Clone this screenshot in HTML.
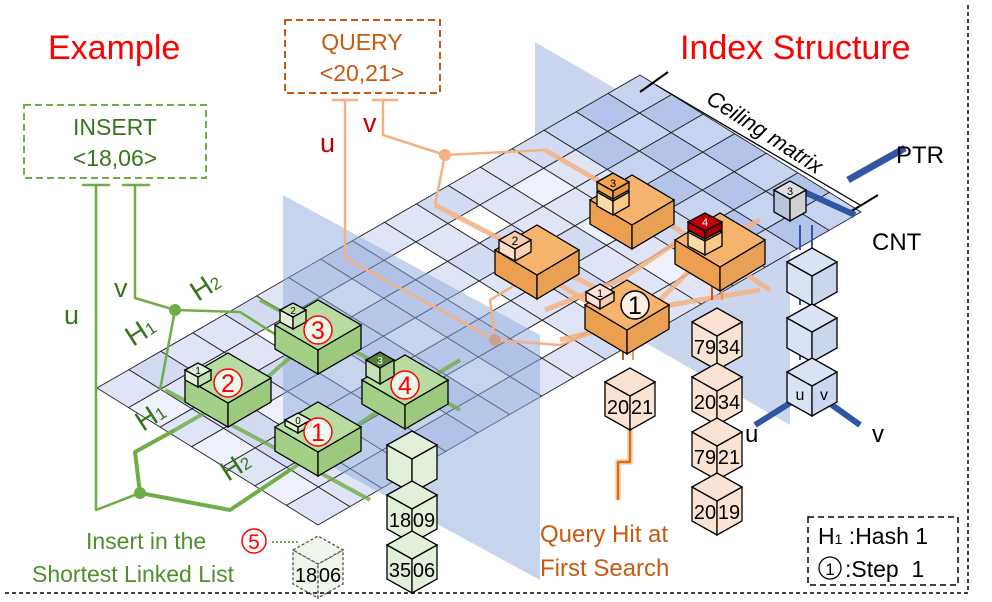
<!DOCTYPE html>
<html><head><meta charset="utf-8"><style>
html,body{margin:0;padding:0;background:#fff;}
svg{display:block;font-family:"Liberation Sans",sans-serif;}
</style></head><body>
<svg id="s" width="992" height="602" viewBox="0 0 992 602" xmlns="http://www.w3.org/2000/svg">
<g id="planes1"></g>
<g id="grid"></g>
<g id="planes2"></g>
<g id="lines"></g>
<g id="cubes"></g>
<g id="txt">
<line x1="968" y1="5" x2="968" y2="593" stroke="#000" stroke-width="1.5" stroke-dasharray="4,3"/>
<line x1="5" y1="593" x2="968" y2="593" stroke="#000" stroke-width="1.5" stroke-dasharray="4,3"/>
<text x="48" y="59" font-size="34" fill="#f00">Example</text>
<text x="680" y="59" font-size="34" fill="#f00">Index Structure</text>
<rect x="285" y="20" width="155" height="73" fill="none" stroke="#c55a11" stroke-width="2" stroke-dasharray="7,4"/>
<text x="362" y="50" font-size="23" fill="#c55a11" text-anchor="middle">QUERY</text>
<text x="362" y="81" font-size="23" fill="#c55a11" text-anchor="middle">&lt;20,21&gt;</text>
<rect x="24" y="105" width="182" height="73" fill="none" stroke="#70ad47" stroke-width="2" stroke-dasharray="7,4"/>
<text x="115" y="135" font-size="23" fill="#38761d" text-anchor="middle">INSERT</text>
<text x="115" y="166" font-size="23" fill="#38761d" text-anchor="middle">&lt;18,06&gt;</text>
<text x="320" y="152" font-size="27" fill="#c00000">u</text>
<text x="363" y="132" font-size="27" fill="#c00000">v</text>
<text x="64" y="324" font-size="27" fill="#38761d">u</text>
<text x="114" y="297" font-size="27" fill="#38761d">v</text>
<text x="0" y="0" font-size="28" fill="#38761d" transform="translate(133,347) rotate(-33)">H<tspan font-size="17">1</tspan></text>
<text x="0" y="0" font-size="28" fill="#38761d" transform="translate(198,302) rotate(-33)">H<tspan font-size="17">2</tspan></text>
<text x="0" y="0" font-size="28" fill="#38761d" transform="translate(143,432) rotate(-33)">H<tspan font-size="17">1</tspan></text>
<text x="0" y="0" font-size="28" fill="#38761d" transform="translate(228,482) rotate(-33)">H<tspan font-size="17">2</tspan></text>
<text x="0" y="0" font-size="22" fill="#000" font-style="italic" transform="translate(705,102) rotate(33)">Ceiling matrix</text>
<text x="896" y="163" font-size="24">PTR</text>
<text x="872" y="250" font-size="24">CNT</text>
<text x="745" y="442" font-size="24">u</text>
<text x="872" y="442" font-size="24">v</text>
<text x="540" y="542" font-size="24" fill="#c55a11">Query Hit at</text>
<text x="540" y="576" font-size="24" fill="#c55a11">First Search</text>
<text x="86" y="549" font-size="23" fill="#4e8f2c">Insert in the</text>
<circle cx="254" cy="541" r="12" fill="#fff" stroke="#f00" stroke-width="1.5"/>
<text x="254" y="549" font-size="21" fill="#f00" text-anchor="middle">5</text>
<text x="32" y="582" font-size="23" fill="#4e8f2c">Shortest Linked List</text>
<line x1="272" y1="542" x2="298" y2="542" stroke="#70ad47" stroke-width="2" stroke-dasharray="2,2"/>
<rect x="808" y="517" width="150" height="68" fill="none" stroke="#000" stroke-width="1.5" stroke-dasharray="6,4"/>
<text x="818" y="544" font-size="23">H<tspan font-size="14">1</tspan> :Hash 1</text>
<circle cx="830" cy="568" r="11" fill="none" stroke="#000" stroke-width="1.3"/>
<text x="830" y="575" font-size="17" text-anchor="middle">1</text>
<text x="845" y="577" font-size="23">:Step&#160;&#160;1</text>
</g>
<script>
var NS="http://www.w3.org/2000/svg";
function el(p,t,a){var e=document.createElementNS(NS,t);for(var k in a)e.setAttribute(k,a[k]);document.getElementById(p).appendChild(e);return e;}
function P(i,j){return [97+i*221/7+j*543/17, 388+i*137/7-j*313/17];}
function pts(a){return a.map(function(p){return p[0].toFixed(1)+","+p[1].toFixed(1)}).join(" ");}
el("planes1","polygon",{points:"535,42 790,190 790,425 535,280",fill:"#9db4e0","fill-opacity":"0.55"});
var cols=["#dfe4f6","#ffffff","#d3dbf3","#eef1fb","#dfe4f6","#ffffff"];
for(var i=0;i<7;i++)for(var j=0;j<17;j++){
 var c=cols[(i*3+j*2+((i*j)%4))%6];
 if(j>=14) c=(i+j)%2?"#b3c3ea":"#c6d3f1";
 el("grid","polygon",{points:pts([P(i,j),P(i+1,j),P(i+1,j+1),P(i,j+1)]),fill:c,stroke:"#222","stroke-width":"0.9"});
}
el("planes2","polygon",{points:"283,195 540,335 540,580 283,440",fill:"#8eaadc","fill-opacity":"0.5"});
function pl(p,c,w,extra){var a={points:p,fill:"none",stroke:c,"stroke-width":w,"stroke-linejoin":"round"};for(var k in extra)a[k]=extra[k];el("lines","polyline",a);}
pl("96,185 96,510 140,493","#70ad47",2.5);
pl("135,185 135,298 175,310","#70ad47",2.5);
pl("82,185 110,185","#70ad47",2.5);pl("122,185 150,185","#70ad47",2.5);
pl("175,310 240,312 300,350","#70ad47",2.5);
pl("175,310 160,390","#70ad47",2.5);
pl("140,493 135,452 175,430","#70ad47",4);
pl("140,493 230,510 290,470","#70ad47",4);
pl("175,430 270,375 310,340","#70ad47",4,{"stroke-opacity":"0.8"});
pl("290,470 410,390 460,360","#70ad47",4,{"stroke-opacity":"0.8"});
pl("165,390 260,440 370,500","#70ad47",4,{"stroke-opacity":"0.8"});
pl("260,300 380,365 460,410","#70ad47",4,{"stroke-opacity":"0.8"});
el("lines","circle",{cx:175,cy:310,r:6,fill:"#70ad47"});
el("lines","circle",{cx:140,cy:493,r:6,fill:"#70ad47"});
pl("345,100 345,258 495,340","#f4b183",2.5);
pl("383,100 383,135 445,155","#f4b183",2.5);
pl("332,100 358,100","#f4b183",2.5);pl("372,100 398,100","#f4b183",2.5);
pl("445,155 545,150","#f4b183",2.5);
pl("445,155 435,205","#f4b183",2.5);
pl("495,340 490,300 540,270","#f4b183",2.5);
pl("495,340 560,345 600,330","#f4b183",2.5);
pl("435,205 550,265 640,310 760,290","#f4b183",5,{"stroke-opacity":"0.85"});
pl("505,250 600,310","#f4b183",5,{"stroke-opacity":"0.85"});
pl("545,150 640,205 770,290","#f4b183",5,{"stroke-opacity":"0.85"});
pl("560,340 640,320 720,240 760,220","#f4b183",5,{"stroke-opacity":"0.85"});
pl("545,310 620,280 680,240","#f4b183",5,{"stroke-opacity":"0.85"});
el("lines","circle",{cx:445,cy:155,r:6,fill:"#f4b183"});
el("lines","circle",{cx:495,cy:340,r:6,fill:"#c9a090"});
pl("618,500 618,462 630,462 630,425","#f4b183",6,{"stroke-opacity":"0.5"});
pl("618,500 618,462 630,462 630,425","#e06d10",2.5);
pl("640,92 668,72","#000",2);pl("850,212 878,195","#000",2);pl("656,85 860,205","#000",1.3);
pl("848,180 905,148","#2f55a4",7);pl("855,215 800,190","#2f55a4",6);
pl("755,425 795,400","#2f55a4",6);pl("860,425 825,400","#2f55a4",6);
function cube(cx,cy,w,h,d,top,l,r,st,dash){
 var s=st||"#000",a={stroke:s,"stroke-width":"1.3"};if(dash)a["stroke-dasharray"]="3,2";
 function f(p,c){var o={points:pts(p),fill:c};for(var k in a)o[k]=a[k];el("cubes","polygon",o);}
 f([[cx-w,cy],[cx,cy+h],[cx,cy+h+d],[cx-w,cy+d]],l);
 f([[cx+w,cy],[cx,cy+h],[cx,cy+h+d],[cx+w,cy+d]],r);
 f([[cx-w,cy],[cx,cy-h],[cx+w,cy],[cx,cy+h]],top);
}
function txt(x,y,s,sz,c){var t=el("cubes","text",{x:x,y:y,"font-size":sz,fill:c||"#000","text-anchor":"middle"});t.textContent=s;}
function circ(x,y,n,c){el("cubes","circle",{cx:x,cy:y,r:14,fill:"#fff",stroke:c,"stroke-width":"1.5","fill-opacity":"0.8"});txt(x,y+9,n,25,c);}
cube(632,200,42,25,24,"#f5b36d","#eb9f4f","#e8a054");
cube(720,240,45,27,24,"#f5b36d","#eb9f4f","#e8a054");
cube(537,250,42,25,24,"#f5b36d","#eb9f4f","#e8a054");
cube(627,305,42,25,24,"#f5b36d","#eb9f4f","#e8a054");
cube(613,192,16,9,14,"#fbd3a0","#fcd9a8","#f9c98a");cube(613,182,16,9,8,"#f3a552","#f3a552","#e89540");txt(613,187,"3",11);
cube(705,232,17,9,14,"#f5c890","#fcd9a8","#f9c98a");cube(705,222,17,9,8,"#c00000","#c00000","#a00000");txt(705,226,"4",11,"#fff");
cube(515,240,16,9,12,"#f8cbad","#fde0c8","#fbd3b5");txt(515,245,"2",12);
cube(600,292,14,8,9,"#fbe3d3","#fbe3d3","#f8cbad");txt(600,297,"1",11);
circ(635,305,"1","#000");
cube(228,378,43,25,24,"#b7dca0","#a3cf86","#9cc97e");
cube(318,325,43,25,24,"#b7dca0","#a3cf86","#9cc97e");
cube(405,380,43,25,24,"#b7dca0","#a3cf86","#9cc97e");
cube(318,427,43,25,24,"#b7dca0","#a3cf86","#9cc97e");
cube(198,370,13,7,10,"#e2f0d9","#e2f0d9","#c5e0b4");txt(198,374,"1",10);
cube(293,310,13,7,12,"#c5e0b4","#e2f0d9","#c5e0b4");txt(293,314,"2",10);
cube(380,360,14,8,16,"#548235","#c5e0b4","#a9d18e");txt(380,364,"3",10,"#fff");
cube(298,420,13,7,6,"#e2f0d9","#e2f0d9","#c5e0b4");txt(298,424,"0",10);
circ(228,383,"2","#f00");circ(318,330,"3","#f00");circ(405,385,"4","#f00");circ(318,432,"1","#f00");
function lcube(cx,cy,a,b,fill,st,dash){cube(cx,cy,25,14,34,fill,fill,fill,st,dash);txt(cx-12,cy+32,a,20);txt(cx+12,cy+32,b,20);}
pl("712,262 712,300","#c55a11",2);pl("722,262 722,300","#e49a4c",2);
lcube(717,322,"79","34","#fbe3d3");lcube(717,377,"20","34","#fbe3d3");lcube(717,432,"79","21","#fbe3d3");lcube(717,487,"20","19","#fbe3d3");
pl("623,328 623,360","#c55a11",2);pl("633,328 633,360","#e49a4c",2);
lcube(630,382,"20","21","#fbe3d3");
lcube(412,445,"","","#e2f0d9");lcube(412,495,"18","09","#e2f0d9");lcube(412,545,"35","06","#e2f0d9");
lcube(318,550,"18","06","#eef6e9","#555",true);
cube(812,262,25,14,30,"#dae3f3","#dae3f3","#c9d6ee");
cube(812,318,25,14,30,"#dae3f3","#dae3f3","#c9d6ee");
cube(812,372,25,14,30,"#dae3f3","#dae3f3","#c9d6ee");
txt(800,400,"u",16);txt(824,400,"v",16);
cube(790,190,16,9,22,"#e0e0e0","#b9c4d8","#d0d0d0");txt(790,195,"3",11);
pl("800,225 800,250","#2f55a4",2);pl("812,225 812,250","#2f55a4",2);
pl("800,285 800,305","#2f55a4",2);pl("812,285 812,305","#2f55a4",2);
pl("800,340 800,360","#2f55a4",2);pl("812,340 812,360","#2f55a4",2);
</script>
</svg>
</body></html>
